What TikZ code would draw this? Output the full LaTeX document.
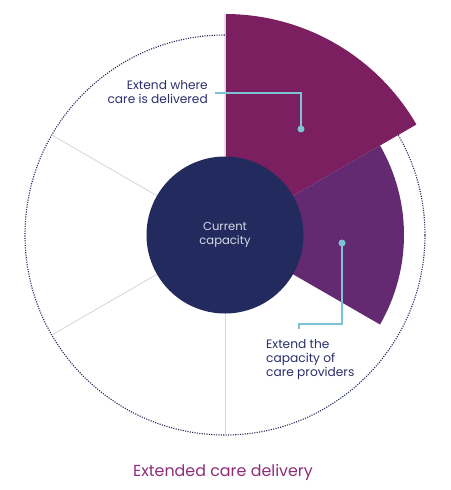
\documentclass[tikz,border=0pt]{standalone}
\usepackage{fontspec}
\setmainfont{Poppins}
\definecolor{secA}{HTML}{7B1F60}
\definecolor{secB}{HTML}{632A72}
\definecolor{core}{HTML}{232B5E}
\definecolor{navytxt}{HTML}{2B2F6B}
\definecolor{leader}{HTML}{7DC3D6}
\definecolor{spoke}{HTML}{D6D6D6}
\definecolor{coretxt}{HTML}{D5D9E6}
\definecolor{titlec}{HTML}{8E2C7C}
\tikzset{
  lbl/.style={inner sep=0pt, text=navytxt, font=\fontsize{12.2}{14}\selectfont},
  lead/.style={draw=leader, line width=1.2pt},
  dotmark/.style={circle, fill=leader, minimum size=7pt, inner sep=0pt},
  spokeline/.style={draw=spoke, line width=0.8pt}
}
\begin{document}
\begin{tikzpicture}[x=1pt,y=1pt]
\useasboundingbox (-225,-255) rectangle (225,235);
\fill[white] (-225,-255) rectangle (225,235);
% dotted outer circle
\draw[core, line width=1.1pt, dash pattern=on 1.1pt off 1.3pt] (0,0) circle (200);
% sectors
\fill[secA] (0,0) -- (90:221) arc[start angle=90, end angle=30, radius=221] -- cycle;
\fill[secB] (0,0) -- (30:179) arc[start angle=30, end angle=-30, radius=179] -- cycle;
% spokes
\coordinate (o) at (0,0);
\coordinate (s90) at (90:221);
\coordinate (s150) at (150:200);
\coordinate (s210) at (210:200);
\coordinate (s270) at (270:200);
\draw[spokeline] (o) -- (s90);
\draw[spokeline] (o) -- (s150);
\draw[spokeline] (o) -- (s210);
\draw[spokeline] (o) -- (s270);
% core
\node[circle, fill=core, minimum size=157pt, inner sep=0pt] (c) at (0,0) {};
\node[text=coretxt, align=center, inner sep=0pt, font=\fontsize{11.6}{14}\selectfont] (ct) at (0,0) {Current\\capacity};
% label 1
\node[lbl, align=right, anchor=north east] (t1) at (-17,155) {Extend where\\care is delivered};
\node[dotmark] (d1) at (76,106) {};
\coordinate (l1) at (-10,142);
\draw[lead] (d1.center) |- (l1);
% label 2
\node[lbl, align=left, anchor=north west] (t2) at (41,-104) {Extend the\\capacity of\\care providers};
\node[dotmark] (d2) at (117,-8) {};
\coordinate (l2a) at (74,-89);
\coordinate (l2b) at (74,-94);
\draw[lead] (d2.center) |- (l2a) -- (l2b);
% title
\node[text=titlec, anchor=base, inner sep=0pt, font=\fontsize{15.9}{18}\selectfont] (title) at (-2,-241) {Extended care delivery};
\end{tikzpicture}
\end{document}
